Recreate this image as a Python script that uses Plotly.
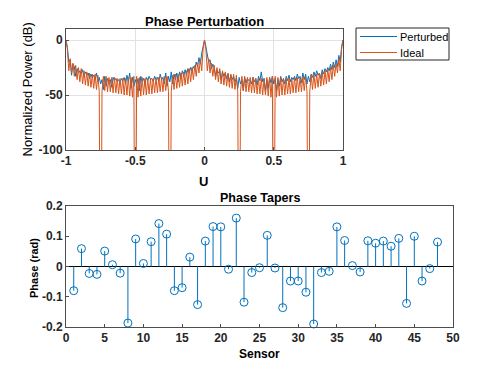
import plotly.graph_objects as go

# ---------------- data ----------------
u_vals = [
    -1.00, -0.99, -0.98, -0.97, -0.96, -0.95, -0.94, -0.93, -0.92, -0.91,
    -0.90, -0.89, -0.88, -0.87, -0.86, -0.85, -0.84, -0.83, -0.82, -0.81,
    -0.80, -0.79, -0.78, -0.77, -0.76, -0.75, -0.74, -0.73, -0.72, -0.71,
    -0.70, -0.69, -0.68, -0.67, -0.66, -0.65, -0.64, -0.63, -0.62, -0.61,
    -0.60, -0.59, -0.58, -0.57, -0.56, -0.55, -0.54, -0.53, -0.52, -0.51,
    -0.50, -0.49, -0.48, -0.47, -0.46, -0.45, -0.44, -0.43, -0.42, -0.41,
    -0.40, -0.39, -0.38, -0.37, -0.36, -0.35, -0.34, -0.33, -0.32, -0.31,
    -0.30, -0.29, -0.28, -0.27, -0.26, -0.25, -0.24, -0.23, -0.22, -0.21,
    -0.20, -0.19, -0.18, -0.17, -0.16, -0.15, -0.14, -0.13, -0.12, -0.11,
    -0.10, -0.09, -0.08, -0.07, -0.06, -0.05, -0.04, -0.03, -0.02, -0.01,
    0.00, 0.01, 0.02, 0.03, 0.04, 0.05, 0.06, 0.07, 0.08, 0.09,
    0.10, 0.11, 0.12, 0.13, 0.14, 0.15, 0.16, 0.17, 0.18, 0.19,
    0.20, 0.21, 0.22, 0.23, 0.24, 0.25, 0.26, 0.27, 0.28, 0.29,
    0.30, 0.31, 0.32, 0.33, 0.34, 0.35, 0.36, 0.37, 0.38, 0.39,
    0.40, 0.41, 0.42, 0.43, 0.44, 0.45, 0.46, 0.47, 0.48, 0.49,
    0.50, 0.51, 0.52, 0.53, 0.54, 0.55, 0.56, 0.57, 0.58, 0.59,
    0.60, 0.61, 0.62, 0.63, 0.64, 0.65, 0.66, 0.67, 0.68, 0.69,
    0.70, 0.71, 0.72, 0.73, 0.74, 0.75, 0.76, 0.77, 0.78, 0.79,
    0.80, 0.81, 0.82, 0.83, 0.84, 0.85, 0.86, 0.87, 0.88, 0.89,
    0.90, 0.91, 0.92, 0.93, 0.94, 0.95, 0.96, 0.97, 0.98, 0.99,
    1.00,
]

perturbed_db = [
    0, -7, -20, -18, -32, -22, -24, -33, -26, -30,
    -28, -31, -27, -33, -29, -32, -30, -35, -31, -34,
    -32, -36, -30, -38, -34, -40, -36, -45, -33, -42,
    -35, -38, -36, -43, -34, -37, -35, -38, -36, -39,
    -35, -37, -34, -40, -32, -38, -30, -44, -34, -42,
    -36, -40, -35, -46, -33, -38, -35, -40, -34, -37,
    -33, -36, -35, -38, -33, -36, -34, -38, -31, -36,
    -34, -40, -30, -42, -33, -38, -29, -40, -31, -36,
    -30, -38, -29, -34, -28, -33, -27, -32, -26, -30,
    -25, -28, -24, -27, -20, -24, -16, -22, -12, -5,
    0, -6, -14, -20, -18, -26, -22, -25, -33, -27,
    -30, -28, -36, -29, -33, -30, -35, -31, -38, -32,
    -36, -33, -38, -35, -44, -34, -40, -36, -46, -34,
    -39, -35, -37, -36, -40, -34, -38, -35, -41, -33,
    -37, -29, -38, -35, -47, -36, -44, -34, -39, -33,
    -40, -35, -46, -36, -42, -33, -38, -35, -40, -33,
    -37, -32, -38, -34, -36, -33, -37, -31, -35, -33,
    -39, -30, -36, -31, -40, -33, -38, -31, -34, -29,
    -33, -28, -32, -30, -35, -27, -31, -26, -29, -25,
    -28, -22, -27, -20, -25, -18, -24, -14, -20, -6,
    0,
]

ideal_db = [
    0, -8, -28, -17, -30, -21, -33, -23, -36, -25,
    -38, -26, -40, -28, -41, -29, -42, -30, -43, -31,
    -44, -31, -45, -32, -47, -300, -47, -33, -46, -33,
    -47, -34, -47, -34, -48, -34, -48, -35, -49, -35,
    -49, -35, -50, -35, -50, -34, -51, -34, -52, -33,
    -300, -33, -52, -34, -51, -34, -50, -35, -50, -35,
    -49, -35, -49, -35, -48, -34, -48, -34, -47, -34,
    -47, -33, -46, -33, -47, -300, -47, -32, -45, -31,
    -44, -31, -43, -30, -42, -29, -41, -28, -40, -26,
    -38, -25, -36, -23, -33, -21, -30, -17, -28, -8,
    0, -8, -28, -17, -30, -21, -33, -23, -36, -25,
    -38, -26, -40, -28, -41, -29, -42, -30, -43, -31,
    -44, -31, -45, -32, -47, -300, -47, -33, -46, -33,
    -47, -34, -47, -34, -48, -34, -48, -35, -49, -35,
    -49, -35, -50, -35, -50, -34, -51, -34, -52, -33,
    -300, -33, -52, -34, -51, -34, -50, -35, -50, -35,
    -49, -35, -49, -35, -48, -34, -48, -34, -47, -34,
    -47, -33, -46, -33, -47, -300, -47, -32, -45, -31,
    -44, -31, -43, -30, -42, -29, -41, -28, -40, -26,
    -38, -25, -36, -23, -33, -21, -30, -17, -28, -8,
    0,
]

sensor = [1, 2, 3, 4, 5, 6, 7, 8, 9, 10, 11, 12, 13, 14, 15, 16, 17, 18, 19, 20,
          21, 22, 23, 24, 25, 26, 27, 28, 29, 30, 31, 32, 33, 34, 35, 36, 37, 38,
          39, 40, 41, 42, 43, 44, 45, 46, 47, 48]
phase_rad = [-0.080, 0.059, -0.023, -0.026, 0.051, 0.006, -0.022, -0.187, 0.091, 0.010,
             0.082, 0.142, 0.107, -0.080, -0.070, 0.031, -0.126, 0.084, 0.132, 0.131,
             -0.009, 0.160, -0.118, -0.020, -0.004, 0.103, -0.005, -0.136, -0.048, -0.048,
             -0.085, -0.190, -0.020, -0.016, 0.131, 0.086, 0.003, -0.018, 0.085, 0.077,
             0.084, 0.067, 0.093, -0.122, 0.100, -0.048, -0.007, 0.081]

series_names = ["Perturbed", "Ideal"]

top_xticks = [-1, -0.5, 0, 0.5, 1]
top_xlabels = ["-1", "-0.5", "0", "0.5", "1"]
top_yticks = [-100, -50, 0]
top_ylabels = ["-100", "-50", "0"]
bot_xticks = [0, 5, 10, 15, 20, 25, 30, 35, 40, 45, 50]
bot_xlabels = ["0", "5", "10", "15", "20", "25", "30", "35", "40", "45", "50"]
bot_yticks = [-0.2, -0.1, 0, 0.1, 0.2]
bot_ylabels = ["-0.2", "-0.1", "0", "0.1", "0.2"]

# ---------------- styling ----------------
W, H = 501, 375
BLUE = "#0072BD"
ORANGE = "#D95319"
FONT = "Liberation Sans, Arial, sans-serif"
AXC = "#4d4d4d"


def px(x):
    return x / W


def py(y):
    return (H - y) / H


fig = go.Figure()

fig.add_trace(go.Scatter(x=u_vals, y=perturbed_db, mode="lines", name=series_names[0],
                         line=dict(color=BLUE, width=1), xaxis="x", yaxis="y",
                         showlegend=False))
fig.add_trace(go.Scatter(x=u_vals, y=ideal_db, mode="lines", name=series_names[1],
                         line=dict(color=ORANGE, width=1), xaxis="x", yaxis="y",
                         showlegend=False))

# stems built from the data
stem_x, stem_y = [], []
for s, p in zip(sensor, phase_rad):
    stem_x += [s, s, None]
    stem_y += [0, p, None]
fig.add_trace(go.Scatter(x=stem_x, y=stem_y, mode="lines", showlegend=False,
                         line=dict(color=BLUE, width=1), xaxis="x2", yaxis="y2"))
fig.add_trace(go.Scatter(x=sensor, y=phase_rad, mode="markers", showlegend=False,
                         marker=dict(symbol="circle-open", size=8, color=BLUE,
                                     line=dict(width=1, color=BLUE)),
                         cliponaxis=False, xaxis="x2", yaxis="y2"))

tickfont = dict(family=FONT, size=12, color="#262626", weight="bold")
common = dict(showline=True, mirror=True, linecolor=AXC, linewidth=1,
              ticks="inside", ticklen=3, tickcolor=AXC, tickfont=tickfont,
              zeroline=False, automargin=False)

fig.update_layout(
    width=W, height=H,
    margin=dict(l=0, r=0, t=0, b=0),
    paper_bgcolor="white", plot_bgcolor="white",
    xaxis=dict(domain=[px(66), px(343)], range=[-1, 1], tickvals=top_xticks,
               ticktext=top_xlabels, showgrid=True, gridcolor="#e2e2e2",
               anchor="y", **common),
    yaxis=dict(domain=[py(150), py(29)], range=[-100, 10], tickvals=top_yticks,
               ticktext=top_ylabels, showgrid=True, gridcolor="#e2e2e2",
               anchor="x", **common),
    xaxis2=dict(domain=[px(66), px(453)], range=[0, 50], tickvals=bot_xticks,
                ticktext=bot_xlabels, showgrid=False, anchor="y2", **common),
    yaxis2=dict(domain=[py(327), py(206)], range=[-0.2, 0.2], tickvals=bot_yticks,
                ticktext=bot_ylabels, showgrid=False, anchor="x2", **common),
    showlegend=False,
)
fig.update_layout(yaxis2_zeroline=True, yaxis2_zerolinecolor="#000000",
                  yaxis2_zerolinewidth=1)

# legend box (drawn by hand so its size matches)
fig.add_shape(type="rect", xref="paper", yref="paper", x0=px(356), x1=px(449),
              y0=py(60), y1=py(28), line=dict(color="#262626", width=1),
              fillcolor="white", layer="above")
for i, (name, col) in enumerate(zip(series_names, [BLUE, ORANGE])):
    yy = 36.5 + 16 * i
    fig.add_shape(type="line", xref="paper", yref="paper", x0=px(360), x1=px(397),
                  y0=py(yy), y1=py(yy), line=dict(color=col, width=1), layer="above")
    fig.add_annotation(text=name, x=px(398), y=py(yy), xref="paper", yref="paper",
                       xanchor="left", yanchor="middle", showarrow=False,
                       font=dict(family=FONT, size=11, color="#000000"))

ann = [
    dict(text="Phase Perturbation", x=px(204.5), y=py(21), size=13, bold=True),
    dict(text="U", x=px(203), y=py(181), size=13, bold=True),
    dict(text="Phase Tapers", x=px(259.5), y=py(198), size=12.5, bold=True),
    dict(text="Sensor", x=px(259.5), y=py(354), size=12, bold=True),
]
for a in ann:
    fig.add_annotation(text=a["text"], x=a["x"], y=a["y"], xref="paper", yref="paper",
                       xanchor="center", yanchor="middle", showarrow=False,
                       font=dict(family=FONT, size=a["size"], color="#000000",
                                 weight="bold" if a["bold"] else "normal"))
fig.add_annotation(text="Normalized Power (dB)", x=px(27), y=py(89.5), xref="paper",
                   yref="paper", xanchor="center", yanchor="middle", showarrow=False,
                   textangle=-90, font=dict(family=FONT, size=13, color="#000000"))
fig.add_annotation(text="Phase (rad)", x=px(34), y=py(268), xref="paper",
                   yref="paper", xanchor="center", yanchor="middle", showarrow=False,
                   textangle=-90, font=dict(family=FONT, size=11, color="#000000",
                                            weight="bold"))

fig.write_html("out.html", config={"displayModeBar": False},
               post_script="document.body.style.margin='0px';")
